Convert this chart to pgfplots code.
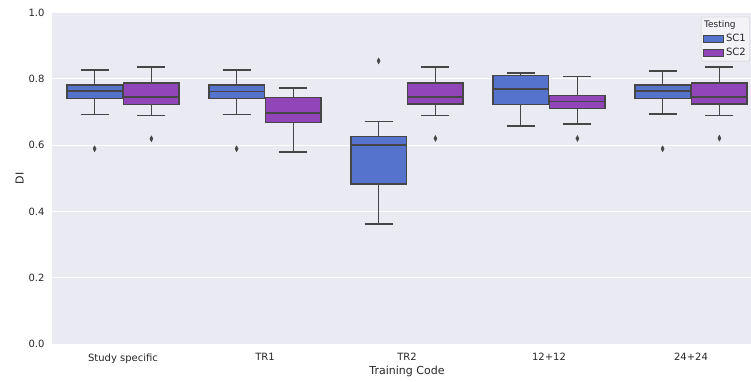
\documentclass[border=0pt]{standalone}
\usepackage{pgfplots}
\pgfplotsset{compat=1.18}
\usepgfplotslibrary{statistics}
\usepackage{fontspec}
\setmainfont{DejaVu Sans}
\definecolor{bgc}{RGB}{234,234,242}
\definecolor{txt}{RGB}{38,38,38}
\definecolor{edge}{RGB}{70,70,70}
\definecolor{scone}{RGB}{85,114,205}
\definecolor{sctwo}{RGB}{146,69,185}
\begin{document}
\begin{tikzpicture}
\begin{axis}[
  name=ax,
  scale only axis,
  width=710pt, height=331.5pt,
  xmin=-0.5, xmax=4.5, ymin=0, ymax=1,
  axis line style={draw=none},
  axis background/.style={fill=bgc},
  ymajorgrids, grid style={white, line width=1pt},
  major tick length=0pt,
  xtick={0,1,2,3,4},
  xticklabels={Study specific, TR1, TR2, 12+12, 24+24},
  ytick={0,0.2,0.4,0.6,0.8,1.0},
  /pgf/number format/.cd, fixed, fixed zerofill, precision=1, assume math mode=true,
  /pgfplots/.cd,
  ticklabel style={font=\fontsize{10}{12}\selectfont, text=txt},
  yticklabel style={xshift=-4pt},
  xticklabel style={yshift=-6pt},
  xlabel={Training Code}, ylabel={DI},
  label style={font=\fontsize{11}{13}\selectfont, text=txt},
  xlabel style={yshift=4pt},
  ylabel style={yshift=-2pt},
  clip=false,
  boxplot/draw direction=y,
  boxplot/box extend=0.392,
  boxplot/whisker extend=0.196,
  boxplot/every whisker/.style={line width=1.6pt},
  boxplot/every median/.style={line width=1.6pt},
  legend style={at={(0.914,0.987)}, anchor=north west, fill=bgc!60!white, draw=black!20, rounded corners=2pt,
    font=\fontsize{10}{12}\selectfont, text=txt, inner xsep=2pt, inner ysep=2pt, row sep=1pt},
  legend cell align=left,
  legend image code/.code={\draw[sharp corners,#1] (0pt,-3.5pt) rectangle (20pt,3.5pt);},
]
\addlegendimage{empty legend}
\addlegendentry{\hspace{-22pt}\fontsize{9}{11}\selectfont Testing}
\addlegendimage{fill=scone, draw=edge, line width=0.9pt}
\addlegendentry{SC1}
\addlegendimage{fill=sctwo, draw=edge, line width=0.9pt}
\addlegendentry{SC2}

\pgfplotsset{
  b1/.style={forget plot, draw=edge, fill=scone, line width=1.6pt, solid, mark=none},
  b2/.style={forget plot, draw=edge, fill=sctwo, line width=1.6pt, solid, mark=none},
  outl/.style={forget plot, only marks, mark=diamond*, mark size=3pt, mark options={xscale=0.7, fill=edge, draw=edge, line width=0.4pt}},
}
% Study specific
\addplot[b1, boxplot prepared={draw position=-0.2, lower whisker=0.692, lower quartile=0.740, median=0.763, upper quartile=0.781, upper whisker=0.826}] coordinates {};
\addplot[b2, boxplot prepared={draw position=0.2, lower whisker=0.689, lower quartile=0.723, median=0.746, upper quartile=0.788, upper whisker=0.836}] coordinates {};
% TR1
\addplot[b1, boxplot prepared={draw position=0.8, lower whisker=0.692, lower quartile=0.740, median=0.762, upper quartile=0.781, upper whisker=0.826}] coordinates {};
\addplot[b2, boxplot prepared={draw position=1.2, lower whisker=0.579, lower quartile=0.668, median=0.697, upper quartile=0.743, upper whisker=0.772}] coordinates {};
% TR2
\addplot[b1, boxplot prepared={draw position=1.8, lower whisker=0.362, lower quartile=0.482, median=0.601, upper quartile=0.626, upper whisker=0.671}] coordinates {};
\addplot[b2, boxplot prepared={draw position=2.2, lower whisker=0.689, lower quartile=0.724, median=0.746, upper quartile=0.788, upper whisker=0.836}] coordinates {};
% 12+12
\addplot[b1, boxplot prepared={draw position=2.8, lower whisker=0.658, lower quartile=0.723, median=0.769, upper quartile=0.810, upper whisker=0.817}] coordinates {};
\addplot[b2, boxplot prepared={draw position=3.2, lower whisker=0.663, lower quartile=0.711, median=0.732, upper quartile=0.750, upper whisker=0.807}] coordinates {};
% 24+24
\addplot[b1, boxplot prepared={draw position=3.8, lower whisker=0.694, lower quartile=0.740, median=0.764, upper quartile=0.782, upper whisker=0.824}] coordinates {};
\addplot[b2, boxplot prepared={draw position=4.2, lower whisker=0.689, lower quartile=0.724, median=0.746, upper quartile=0.788, upper whisker=0.835}] coordinates {};
% outliers
\addplot[outl] coordinates {(-0.2,0.589) (0.2,0.619) (0.8,0.589) (1.8,0.854) (2.2,0.620) (3.2,0.620) (3.8,0.589) (4.2,0.621)};
\end{axis}
\pgfresetboundingbox
\path[use as bounding box] ([xshift=-52pt,yshift=-37pt]ax.south west) rectangle ([xshift=699pt,yshift=12.5pt]ax.north west);
\end{tikzpicture}
\end{document}
